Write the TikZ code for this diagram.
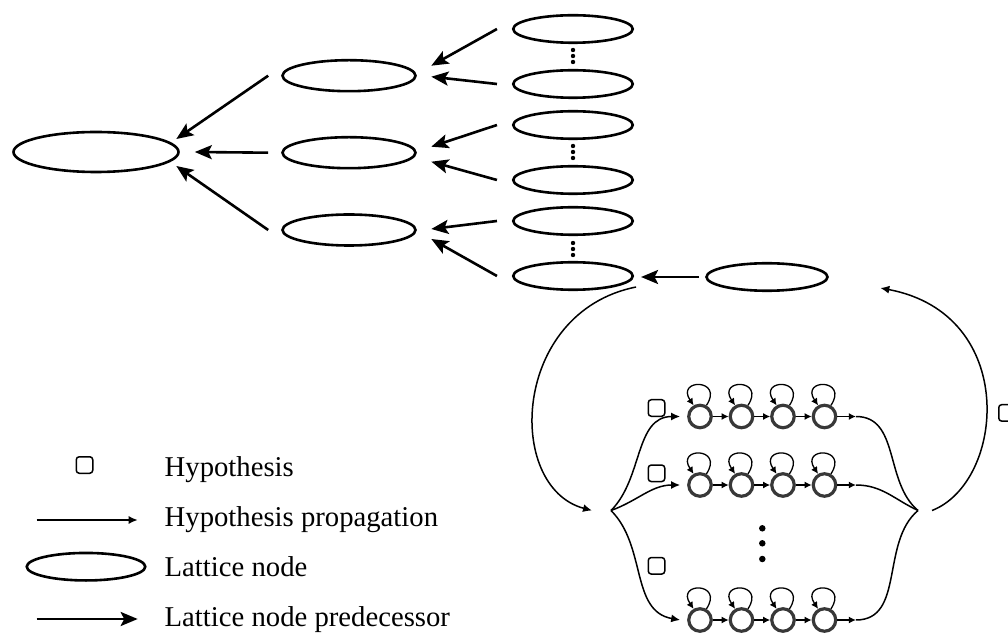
\documentclass[tikz,border=0pt]{standalone}
\usepackage{fontspec}
\setmainfont{Liberation Serif}
\usetikzlibrary{arrows.meta,shapes.geometric,calc}
\begin{document}
\begin{tikzpicture}[x=1pt,y=1pt,
  lat/.style={draw, ellipse, line width=2.6pt, inner sep=0pt},
  bigl/.style={lat, minimum width=165pt, minimum height=40pt},
  midl/.style={lat, minimum width=133pt, minimum height=31pt},
  sml/.style={lat, minimum width=119.5pt, minimum height=27.5pt},
  pred/.style={line width=2.6pt, -{Stealth[length=17pt,width=14pt,inset=3.5pt]}},
  prop/.style={line width=1.5pt, -{Latex[length=9pt,width=8pt]}},
  plain/.style={line width=1.5pt},
  hyp/.style={draw, rectangle, rounded corners=3pt, line width=1.5pt, minimum size=16.5pt, inner sep=0pt},
  state/.style={draw=black!78, circle, line width=3.2pt, minimum size=22.5pt, inner sep=0pt},
  stepar/.style={line width=1.3pt, -{Latex[length=7pt,width=7pt]}},
  vdot/.style={circle, fill, inner sep=0pt, minimum size=4.4pt},
  bdot/.style={circle, fill, inner sep=0pt, minimum size=6.5pt},
  lbl/.style={anchor=base west, inner sep=0pt, font=\fontsize{28.7}{34}\selectfont}
]
\useasboundingbox (0,0) rectangle (1008,632);

% lattice nodes
\node[bigl] (L) at (96,480) {};
\node[midl] (m1) at (349,556.3) {};
\node[midl] (m2) at (349,479.3) {};
\node[midl] (m3) at (349,402) {};
\node[sml] (r1) at (573,603) {};
\node[sml] (r2) at (573,548) {};
\node[sml] (r3) at (573,507) {};
\node[sml] (r4) at (573,452) {};
\node[sml] (r5) at (573,411) {};
\node[sml] (r6) at (573,356) {};
\node[sml, minimum width=121pt] (R) at (767,355) {};

% elided lattice nodes
\foreach \g/\yy in {a/576, b/480, c/383}
  \foreach \k/\dy in {1/6, 2/0, 3/-6}
    \node[vdot] (v\g\k) at (573,\yy+\dy) {};

% predecessors of the first node
\draw[pred] ([xshift=-13pt]m1.west) -- ([shift={(-3.5pt,13pt)}]L.east);
\draw[pred] ([xshift=-13pt]m2.west) -- ([xshift=15pt]L.east);
\draw[pred] ([xshift=-13pt]m3.west) -- ([shift={(-3.5pt,-14pt)}]L.east);

% predecessors of the middle column
\draw[pred] ([xshift=-15pt]r1.west) -- ([shift={(14.5pt,10pt)}]m1.east);
\draw[pred] ([xshift=-15pt]r2.west) -- ([shift={(14.5pt,-1pt)}]m1.east);
\draw[pred] ([xshift=-15pt]r3.west) -- ([shift={(14.5pt,6pt)}]m2.east);
\draw[pred] ([xshift=-15pt]r4.west) -- ([shift={(14.5pt,-9pt)}]m2.east);
\draw[pred] ([xshift=-15pt]r5.west) -- ([shift={(14.5pt,1pt)}]m3.east);
\draw[pred] ([xshift=-15pt]r6.west) -- ([shift={(14.5pt,-9pt)}]m3.east);
\draw[pred] ([xshift=-6pt]R.west) -- ([shift={(7pt,-1pt)}]r6.east);

% hypothesis expansion through the model
\coordinate (P) at (611,121.5);
\coordinate (Q) at (918,121.5);
\foreach \r/\yy in {1/215.5, 2/147, 3/12}{
  \foreach \c/\xx in {1/700, 2/741.5, 3/783, 4/824.5}{
    \node[state] (s\r\c) at (\xx,\yy) {};
    \draw[stepar] (s\r\c.60) .. controls +(18,27) and +(-18,27) .. (s\r\c.120);
  }
  \draw[stepar] (s\r1) -- (s\r2);
  \draw[stepar] (s\r2) -- (s\r3);
  \draw[stepar] (s\r3) -- (s\r4);
  \draw[stepar] (s\r4.east) -- ++(18.5,0) coordinate (o\r);
}
\draw[prop] (P) to[out=45,in=180] ([xshift=-7pt]s11.west);
\draw[prop] (P) to[out=20,in=180] ([xshift=-7pt]s21.west);
\draw[prop] (P) to[out=-45,in=170] ([xshift=-7pt]s31.west);
\draw[plain] (o1) to[out=0,in=140] (Q);
\draw[plain] (o2) to[out=0,in=155] (Q);
\draw[plain] (o3) to[out=0,in=-140] (Q);

\node[bdot] (b1) at (762.3,103.7) {};
\node[bdot] (b2) at (762.3,88.7) {};
\node[bdot] (b3) at (762.3,73) {};

\node[hyp] (h1) at (656.5,224) {};
\node[hyp] (h2) at (656.5,158.7) {};
\node[hyp] (h3) at (656.5,66.2) {};
\node[hyp] (h4) at (1007,219.1) {};

% hypotheses entering and leaving the model
\draw[prop] ([shift={(2pt,-11pt)}]r6.east) .. controls +(-125,-25) and +(-87,23) .. ([xshift=-19pt]P);
\draw[prop] ([xshift=14pt]Q) .. controls +(73,28.5) and +(139,-26) .. ([shift={(51.5pt,-11pt)}]R.east);

% legend
\node[hyp] (lh) at (84.5,167) {};
\node[lbl] (t1) at (164.5,155.3) {Hypothesis};
\coordinate (la) at (36.7,112);
\coordinate (lb) at (137.7,112);
\draw[prop] (la) -- (lb);
\node[lbl] (t2) at (164.5,106) {Hypothesis propagation};
\node[sml, minimum width=118.5pt] (le) at (86,65.3) {};
\node[lbl] (t3) at (164.5,55.3) {Lattice node};
\coordinate (lc) at (36.7,13);
\coordinate (ld) at (137.7,13);
\draw[pred] (lc) -- (ld);
\node[lbl] (t4) at (164.5,6) {Lattice node predecessor};
\end{tikzpicture}
\end{document}
